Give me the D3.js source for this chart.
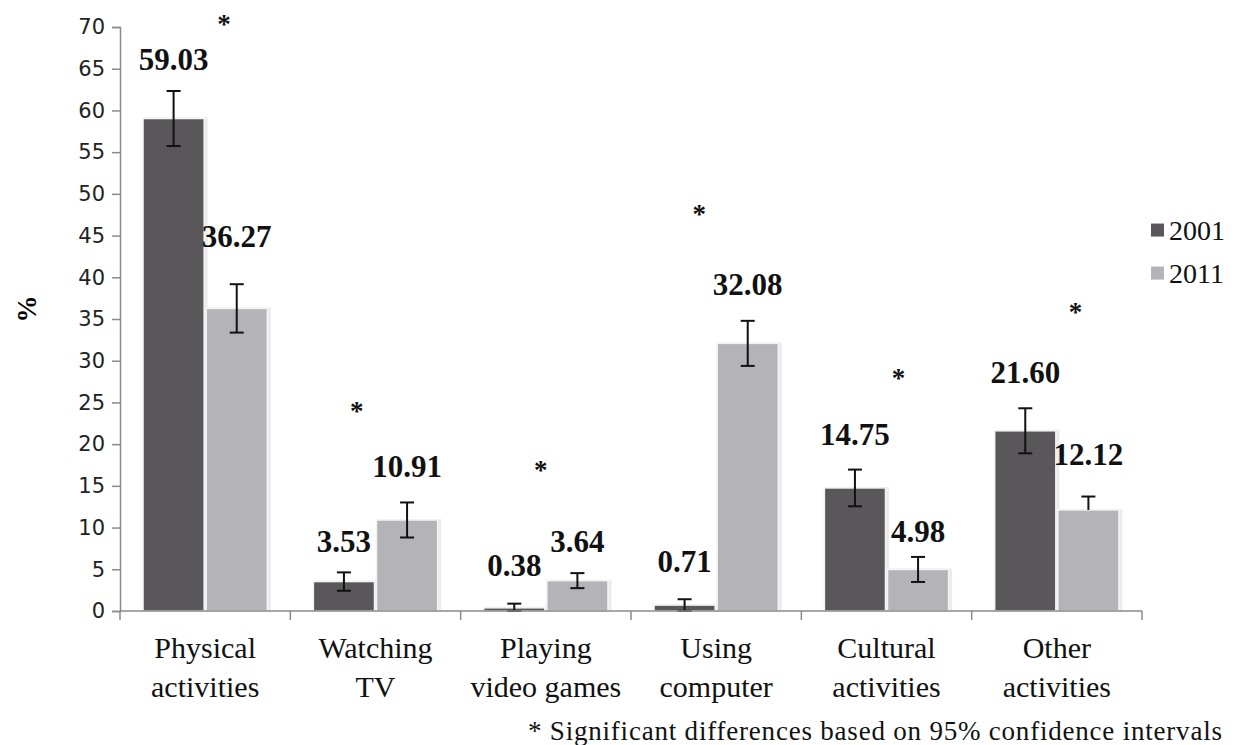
<!DOCTYPE html>
<html>
<head>
<meta charset="utf-8">
<script src="https://cdn.jsdelivr.net/npm/d3@7"></script>
<style>
  body { margin: 0; background: #fff; }
  svg { display: block; }
</style>
</head>
<body>
<div id="chart"></div>
<script>
// categories and series
var categories = ["Physical activities", "Watching TV", "Playing video games", "Using computer", "Cultural activities", "Other activities"];
var labelLines = [["Physical", "activities"], ["Watching", "TV"], ["Playing", "video games"], ["Using", "computer"], ["Cultural", "activities"], ["Other", "activities"]];
var years = ["2001", "2011"];
var values2001 = [59.03, 3.53, 0.38, 0.71, 14.75, 21.60];
var values2011 = [36.27, 10.91, 3.64, 32.08, 4.98, 12.12];
// 95% confidence half-widths
var errUp2001 = [3.3, 1.1, 0.5, 0.7, 2.2, 2.7];
var errDown2001 = [3.3, 1.1, 0.5, 0.7, 2.2, 2.7];
var errUp2011 = [2.9, 2.1, 0.9, 2.7, 1.5, 1.6];
var errDown2011 = [2.9, 2.1, 0.9, 2.7, 1.5, 0];
var yTicks = [0, 5, 10, 15, 20, 25, 30, 35, 40, 45, 50, 55, 60, 65, 70];
var significant = [true, true, true, true, true, true];
var footnote = "* Significant  differences based on 95%  confidence intervals";

// where the value labels and asterisks sit, in % units (placed by hand in the original)
var labelLevel2001 = [64.8, 7.1, 4.2, 4.7, 19.9, 27.3];
var labelLevel2011 = [43.6, 16.1, 7.1, 37.9, 8.3, 17.5];
var starLevel = [70.6, 24.2, 17.1, 47.8, 28.2, 36.1];
var starShift = [0.11, -0.11, -0.03, -0.1, 0.07, 0.11]; // fraction of band width from centre

var W = 1233, H = 745;
var margin = {top: 27, right: 91, bottom: 134, left: 120},
    width = W - margin.left - margin.right,
    height = H - margin.top - margin.bottom;

var colors = {"2001": "#5a575b", "2011": "#b4b3b8"};
var serif = "'Liberation Serif', 'Times New Roman', serif";

var svg = d3.select("#chart").append("svg")
    .attr("width", W)
    .attr("height", H)
  .append("g")
    .attr("transform", "translate(" + margin.left + "," + margin.top + ")");

var data = categories.map(function(c, i) {
  return {
    cat: c,
    lines: labelLines[i],
    sig: significant[i],
    star: starLevel[i],
    shift: starShift[i],
    bars: [
      {year: "2001", value: values2001[i], up: errUp2001[i], down: errDown2001[i], level: labelLevel2001[i]},
      {year: "2011", value: values2011[i], up: errUp2011[i], down: errDown2011[i], level: labelLevel2011[i]}
    ]
  };
});

var x = d3.scaleBand().domain(categories).range([0, width]).padding(0);
var xSub = d3.scaleBand().domain(years).range([0, x.bandwidth()])
    .paddingInner(0.032).paddingOuter(0.365);
var y = d3.scaleLinear().domain([0, 70]).range([height, 0]);

// Y axis
var yAxis = svg.append("g")
  .call(d3.axisLeft(y).tickValues(yTicks).tickSize(8).tickPadding(7).tickSizeOuter(8));
yAxis.selectAll("text")
  .style("font-family", "'DejaVu Sans', Verdana, sans-serif")
  .style("font-size", "21px")
  .attr("fill", "#222");
yAxis.selectAll("line, path").attr("stroke", "#8a8a8a").attr("stroke-width", 1.5);

svg.append("text")
  .attr("transform", "translate(" + (-84) + "," + (height / 2 - 10) + ") rotate(-90)")
  .attr("text-anchor", "middle")
  .style("font-family", serif)
  .style("font-weight", "bold")
  .style("font-size", "27px")
  .text("%");

// groups
var groups = svg.selectAll(".grp")
  .data(data)
  .enter().append("g")
    .attr("class", "grp")
    .attr("transform", function(d) { return "translate(" + x(d.cat) + ",0)"; });

// soft shadow behind bars
groups.selectAll(".shadow")
  .data(function(d) { return d.bars; })
  .enter().append("rect")
    .attr("x", function(d) { return xSub(d.year) + 2; })
    .attr("y", function(d) { return y(d.value) - 1; })
    .attr("width", xSub.bandwidth() + 1.5)
    .attr("height", function(d) { return height - y(d.value) + 1; })
    .attr("fill", "#ececec");

groups.selectAll(".bar")
  .data(function(d) { return d.bars; })
  .enter().append("rect")
    .attr("class", "bar")
    .attr("x", function(d) { return xSub(d.year); })
    .attr("y", function(d) { return y(d.value); })
    .attr("width", xSub.bandwidth())
    .attr("height", function(d) { return height - y(d.value); })
    .attr("fill", function(d) { return colors[d.year]; })
    .attr("stroke", "#f4f4f4")
    .attr("stroke-width", 1.5);

// error bars
var eb = groups.selectAll(".err")
  .data(function(d) { return d.bars; })
  .enter().append("g")
    .attr("class", "err")
    .attr("stroke", "#111")
    .attr("stroke-width", 2);
function cx(d) { return xSub(d.year) + xSub.bandwidth() / 2; }
eb.append("line")
  .attr("x1", cx).attr("x2", cx)
  .attr("y1", function(d) { return y(d.value + d.up); })
  .attr("y2", function(d) { return y(Math.max(0, d.value - d.down)); });
eb.append("line")
  .attr("x1", function(d) { return cx(d) - 7; }).attr("x2", function(d) { return cx(d) + 7; })
  .attr("y1", function(d) { return y(d.value + d.up); })
  .attr("y2", function(d) { return y(d.value + d.up); });
eb.filter(function(d) { return d.down > 0; }).append("line")
  .attr("x1", function(d) { return cx(d) - 7; }).attr("x2", function(d) { return cx(d) + 7; })
  .attr("y1", function(d) { return y(Math.max(0, d.value - d.down)); })
  .attr("y2", function(d) { return y(Math.max(0, d.value - d.down)); });

// value labels
groups.selectAll(".val")
  .data(function(d) { return d.bars; })
  .enter().append("text")
    .attr("class", "val")
    .attr("x", cx)
    .attr("y", function(d) { return y(d.level); })
    .attr("text-anchor", "middle")
    .style("font-family", serif)
    .style("font-weight", "bold")
    .style("font-size", "31px")
    .attr("fill", "#111")
    .text(function(d) { return d.value.toFixed(2); });

// significance asterisks
groups.filter(function(d) { return d.sig; }).append("text")
  .attr("x", function(d) { return x.bandwidth() / 2 + d.shift * x.bandwidth(); })
  .attr("y", function(d) { return y(d.star) + 11; })
  .attr("text-anchor", "middle")
  .style("font-family", serif)
  .style("font-weight", "bold")
  .style("font-size", "27px")
  .attr("fill", "#111")
  .text("*");

// X axis with ticks at category boundaries
var xAxis = svg.append("g").attr("transform", "translate(0," + height + ")");
xAxis.append("line")
  .attr("x1", 0).attr("x2", width)
  .attr("stroke", "#8a8a8a").attr("stroke-width", 1.5);
var bounds = categories.map(function(c) { return x(c); }).concat([width]);
xAxis.selectAll(".tk")
  .data(bounds)
  .enter().append("line")
    .attr("x1", function(d) { return d; }).attr("x2", function(d) { return d; })
    .attr("y1", 0).attr("y2", 9)
    .attr("stroke", "#8a8a8a").attr("stroke-width", 1.5);

var catText = xAxis.selectAll(".cat")
  .data(data)
  .enter().append("text")
    .attr("text-anchor", "middle")
    .attr("x", function(d) { return x(d.cat) + x.bandwidth() / 2; })
    .attr("y", 47)
    .style("font-family", serif)
    .style("font-size", "30px")
    .attr("fill", "#111");
catText.selectAll("tspan")
  .data(function(d) { return d.lines; })
  .enter().append("tspan")
    .attr("x", function() { var p = d3.select(this.parentNode).datum(); return x(p.cat) + x.bandwidth() / 2; })
    .attr("dy", function(d, i) { return i === 0 ? 0 : 39; })
    .text(function(d) { return d; });

// footnote
svg.append("text")
  .attr("x", 408)
  .attr("y", height + 129)
  .attr("textLength", 694)
  .attr("lengthAdjust", "spacing")
  .style("font-family", serif)
  .style("font-size", "27px")
  .attr("fill", "#111")
  .text(footnote);

// legend
var legend = svg.append("g")
  .attr("transform", "translate(" + (width + 9) + "," + (y(45.6)) + ")");
var li = legend.selectAll(".li")
  .data(years)
  .enter().append("g")
    .attr("transform", function(d, i) { return "translate(0," + (i * 43) + ")"; });
li.append("rect")
  .attr("x", 0).attr("y", -7).attr("width", 13).attr("height", 13)
  .attr("fill", function(d) { return colors[d]; });
li.append("text")
  .attr("x", 18).attr("y", 9)
  .style("font-family", serif)
  .style("font-size", "28px")
  .attr("fill", "#111")
  .text(function(d) { return d; });
</script>
</body>
</html>
